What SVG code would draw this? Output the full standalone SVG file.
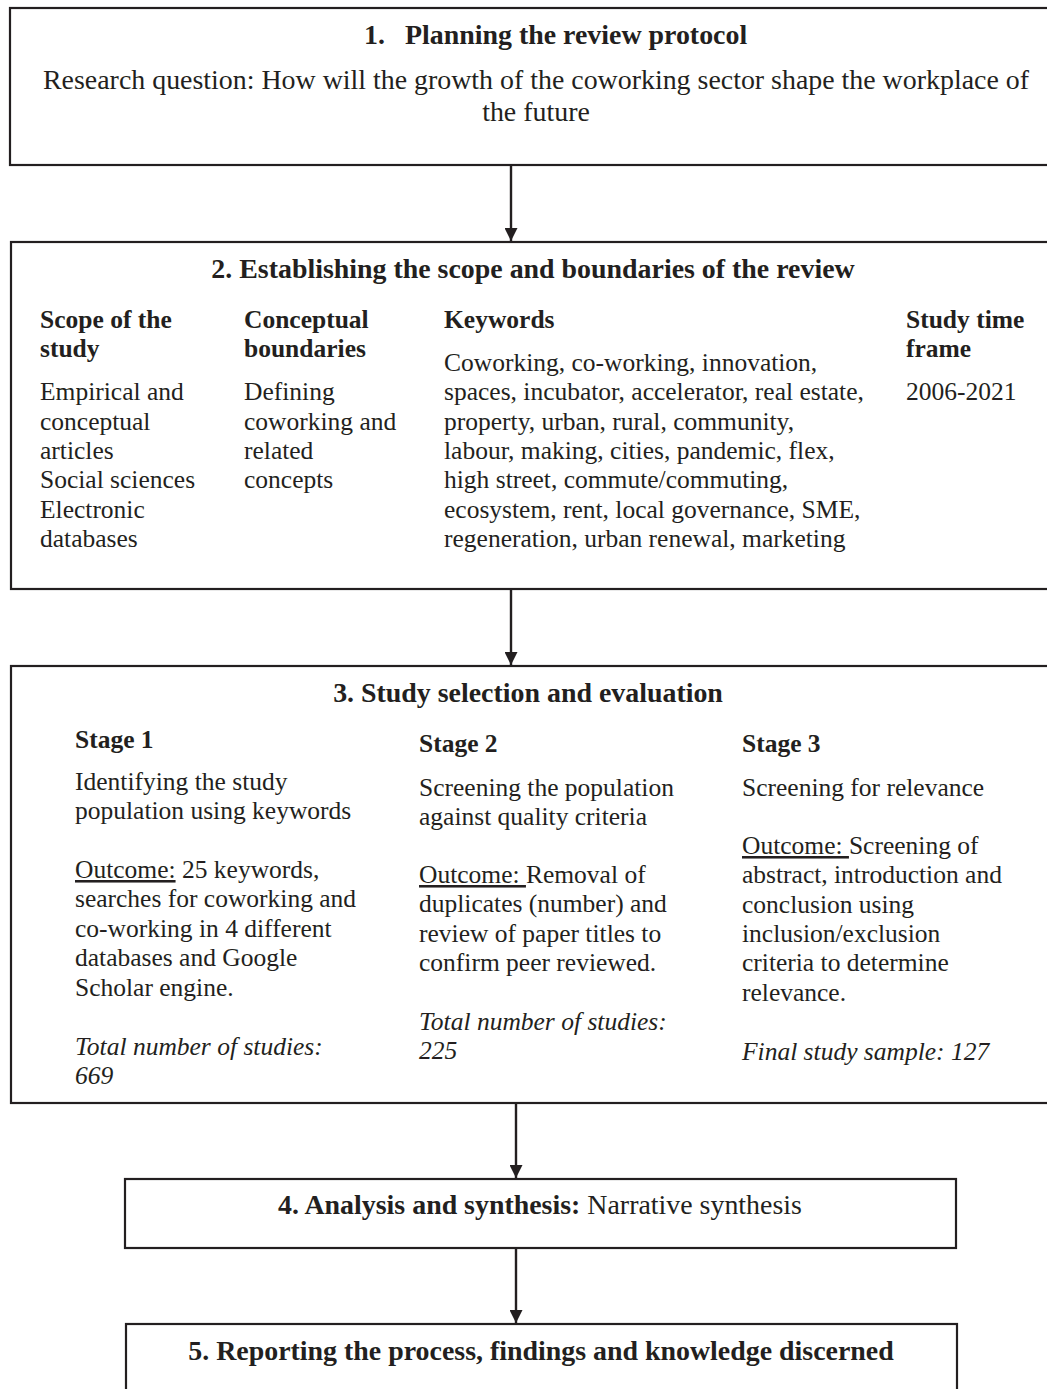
<svg xmlns="http://www.w3.org/2000/svg" width="1047" height="1389" viewBox="0 0 1047 1389">
<defs>
<style>
.box{fill:#fff;stroke:#231f20;stroke-width:2.2}
text{font-family:"Liberation Serif","Times New Roman",serif;font-size:25.5px;fill:#231f20}
.L{font-size:27.9px}
.b{font-weight:bold}
.c{text-anchor:middle}
.i{font-style:italic}
.u{text-decoration:underline}
.conn{stroke:#231f20;stroke-width:2.4;fill:none}
</style>
<marker id="ah" viewBox="0 0 13 13" refX="13" refY="6.5" markerUnits="userSpaceOnUse" markerWidth="13" markerHeight="13" orient="auto">
<path d="M0,0 L13,6.5 L0,13 Z" fill="#231f20"/>
</marker>
</defs>
<rect width="1047" height="1389" fill="#fff"/>

<g id="connectors">
<line class="conn" x1="511" y1="166" x2="511" y2="241" marker-end="url(#ah)"/>
<line class="conn" x1="511" y1="590" x2="511" y2="665" marker-end="url(#ah)"/>
<line class="conn" x1="516" y1="1104" x2="516" y2="1178" marker-end="url(#ah)"/>
<line class="conn" x1="516" y1="1249" x2="516" y2="1323" marker-end="url(#ah)"/>
</g>

<g id="node1">
<rect class="box" x="10" y="8" width="1050" height="157"/>
<text class="b L" x="364" y="44">1.</text>
<text class="b L" x="405" y="44">Planning the review protocol</text>
<text class="c L" x="536" y="89">Research question: How will the growth of the coworking sector shape the workplace of</text>
<text class="c L" x="536" y="121">the future</text>
</g>

<g id="node2">
<rect class="box" x="11" y="242" width="1050" height="347"/>
<text class="b c L" x="533" y="278">2. Establishing the scope and boundaries of the review</text>
<text class="b" x="40" y="328">Scope of the</text>
<text class="b" x="40" y="357">study</text>
<text x="40" y="400">Empirical and</text>
<text x="40" y="430">conceptual</text>
<text x="40" y="459">articles</text>
<text x="40" y="488">Social sciences</text>
<text x="40" y="518">Electronic</text>
<text x="40" y="547">databases</text>
<text class="b" x="244" y="328">Conceptual</text>
<text class="b" x="244" y="357">boundaries</text>
<text x="244" y="400">Defining</text>
<text x="244" y="430">coworking and</text>
<text x="244" y="459">related</text>
<text x="244" y="488">concepts</text>
<text class="b" x="444" y="328">Keywords</text>
<text x="444" y="371">Coworking, co-working, innovation,</text>
<text x="444" y="400">spaces, incubator, accelerator, real estate,</text>
<text x="444" y="430">property, urban, rural, community,</text>
<text x="444" y="459">labour, making, cities, pandemic, flex,</text>
<text x="444" y="488">high street, commute/commuting,</text>
<text x="444" y="518">ecosystem, rent, local governance, SME,</text>
<text x="444" y="547">regeneration, urban renewal, marketing</text>
<text class="b" x="906" y="328">Study time</text>
<text class="b" x="906" y="357">frame</text>
<text x="906" y="400">2006-2021</text>
</g>

<g id="node3">
<rect class="box" x="11" y="666" width="1050" height="437"/>
<text class="b c L" x="528" y="702">3. Study selection and evaluation</text>
<text class="b" x="75" y="748">Stage 1</text>
<text x="75" y="790">Identifying the study</text>
<text x="75" y="819">population using keywords</text>
<text x="75" y="878"><tspan class="u">Outcome:</tspan> 25 keywords,</text>
<text x="75" y="907">searches for coworking and</text>
<text x="75" y="937">co-working in 4 different</text>
<text x="75" y="966">databases and Google</text>
<text x="75" y="996">Scholar engine.</text>
<text class="i" x="75" y="1055">Total number of studies:</text>
<text class="i" x="75" y="1084">669</text>
<text class="b" x="419" y="752">Stage 2</text>
<text x="419" y="796">Screening the population</text>
<text x="419" y="825">against quality criteria</text>
<text x="419" y="883"><tspan class="u">Outcome: </tspan>Removal of</text>
<text x="419" y="912">duplicates (number) and</text>
<text x="419" y="942">review of paper titles to</text>
<text x="419" y="971">confirm peer reviewed.</text>
<text class="i" x="419" y="1030">Total number of studies:</text>
<text class="i" x="419" y="1059">225</text>
<text class="b" x="742" y="752">Stage 3</text>
<text x="742" y="796">Screening for relevance</text>
<text x="742" y="854"><tspan class="u">Outcome: </tspan>Screening of</text>
<text x="742" y="883">abstract, introduction and</text>
<text x="742" y="913">conclusion using</text>
<text x="742" y="942">inclusion/exclusion</text>
<text x="742" y="971">criteria to determine</text>
<text x="742" y="1001">relevance.</text>
<text class="i" x="742" y="1060">Final study sample: 127</text>
</g>

<g id="node4">
<rect class="box" x="125" y="1179" width="831" height="69"/>
<text class="c L" x="540" y="1214"><tspan class="b">4. Analysis and synthesis:</tspan> Narrative synthesis</text>
</g>

<g id="node5">
<rect class="box" x="126" y="1324" width="831" height="100"/>
<text class="b c L" x="541" y="1360">5. Reporting the process, findings and knowledge discerned</text>
</g>
</svg>
